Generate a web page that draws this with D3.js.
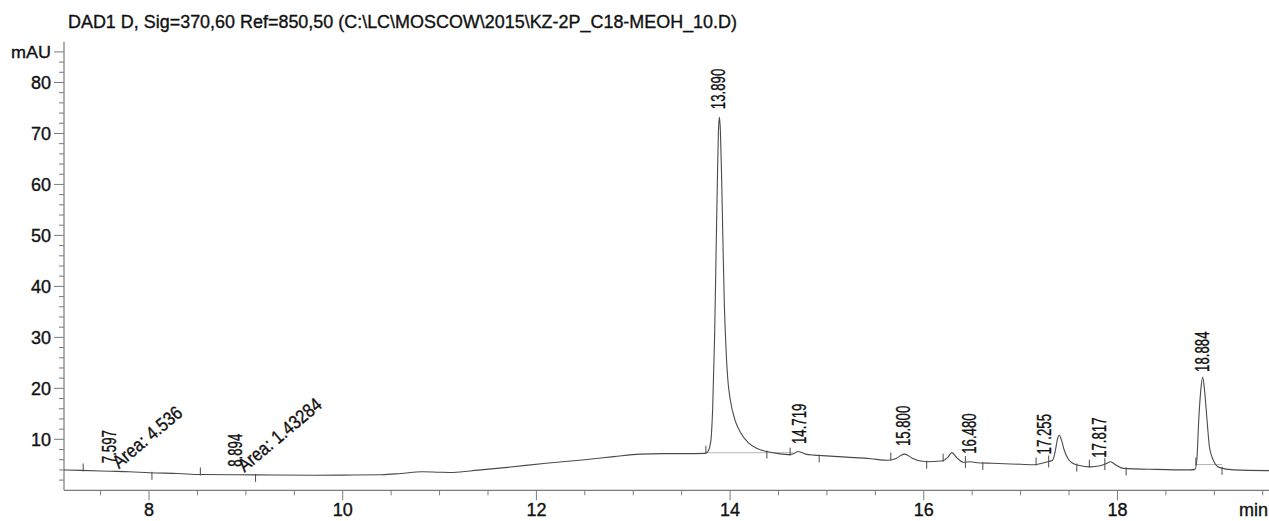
<!DOCTYPE html>
<html>
<head>
<meta charset="utf-8">
<script src="https://cdn.jsdelivr.net/npm/d3@7"></script>
<style>
  html, body { margin: 0; padding: 0; background: #fff; }
  svg { display: block; font-family: "Liberation Sans", Arial, sans-serif; }
  text { fill: #111; stroke: #111; stroke-width: 0.35px; }
</style>
</head>
<body>
<svg id="chart" width="1269" height="521"></svg>
<script>
// ---- data ----
const titleText = "DAD1 D, Sig=370,60 Ref=850,50 (C:\\LC\\MOSCOW\\2015\\KZ-2P_C18-MEOH_10.D)";
const yUnit = "mAU";
const xUnit = "min";

const xMajorTicks = [8, 10, 12, 14, 16, 18];
const yMajorTicks = [10, 20, 30, 40, 50, 60, 70, 80];

const signalTime = [
  7.122, 7.3, 7.6, 7.8, 8.0, 8.3, 8.53, 8.9, 9.3, 9.7, 10.1, 10.4, 10.6, 10.82, 11.0, 11.14,
  11.4, 11.7, 12.1, 12.5, 12.8, 13.07, 13.3, 13.5, 13.74,
  13.77, 13.8, 13.82, 13.84, 13.855, 13.87, 13.88, 13.89, 13.90, 13.912, 13.925, 13.94, 13.96,
  13.98, 14.0, 14.05, 14.1, 14.19, 14.28, 14.38, 14.5, 14.62, 14.66, 14.70, 14.74, 14.78,
  14.87, 14.95, 15.2, 15.45, 15.63, 15.72, 15.76, 15.80, 15.84, 15.88, 16.02, 16.2, 16.25,
  16.29, 16.34, 16.41, 16.48, 16.55, 16.71, 17.0, 17.14, 17.22, 17.28, 17.33, 17.36, 17.38,
  17.40, 17.42, 17.45, 17.49, 17.53, 17.6, 17.72, 17.82, 17.88, 17.93, 17.98, 18.06, 18.4,
  18.75, 18.80, 18.82, 18.84, 18.86, 18.88, 18.90, 18.925, 18.95, 18.99, 19.05, 19.2, 19.565
];
const signalValue = [
  4.0, 3.9, 3.75, 3.65, 3.45, 3.3, 3.1, 3.05, 3.0, 2.95, 3.0, 3.05, 3.3, 3.65, 3.55, 3.5,
  3.95, 4.5, 5.3, 6.0, 6.6, 7.1, 7.2, 7.2, 7.25,
  7.6, 9.5, 16, 30, 46, 62, 70.5, 73.2, 70.5, 62, 50, 37, 27,
  21, 18, 13.8, 11.6, 9.3, 8.2, 7.6, 7.2, 7.0, 7.2, 7.6, 7.4, 7.1,
  6.9, 6.8, 6.5, 6.2, 5.9, 6.3, 6.8, 7.1, 6.8, 6.3, 5.6, 5.8, 6.5,
  7.4, 6.4, 5.5, 5.6, 5.4, 5.3, 5.1, 5.0, 5.3, 5.6, 5.9, 7.9, 10.0,
  10.8, 10.0, 7.9, 6.2, 5.4, 4.9, 4.6, 4.8, 5.2, 5.6, 5.0, 4.3, 4.1,
  4.0, 4.1, 6.0, 14.0, 19.5, 22.2, 19.5, 13.8, 8.5, 5.9, 4.5, 4.0, 3.85
];

const peakRT = [7.597, 8.894, 13.890, 14.719, 15.800, 16.480, 17.255, 17.817, 18.884];
const peakText = ["7.597", "8.894", "13.890", "14.719", "15.800", "16.480", "17.255", "17.817", "18.884"];

const areaRT = [7.597, 8.894];
const areaText = ["Area: 4.536", "Area: 1.43284"];

// integration event markers: start (up), end (down), split (both)
const markStart = [7.32, 8.53, 13.75, 14.62, 15.66, 16.2, 17.16, 17.71, 18.81];
const markEnd = [8.03, 9.1, 14.38, 14.92, 16.03, 16.61, 17.58, 18.09, 19.08];
const markSplit = [16.43, 17.29, 17.87];

// drawn integration baselines [start, end]
const baseStart = [13.75, 18.81];
const baseEnd = [14.65, 19.08];

// ---- layout ----
const svg = d3.select("#chart");
const mLeft = 64, mRight = 1269, mTop = 41.7, mBottom = 490.3;
const x = d3.scaleLinear().domain([7.122, 19.565]).range([mLeft, mRight]);
const y = d3.scaleLinear().domain([0, 88]).range([mBottom, mTop]);

const axisColor = "#7a7a7a";
const lineColor = "#4a4a4a";

const interp = t => {
  const i = d3.bisectLeft(signalTime, t);
  if (i <= 0) return signalValue[0];
  if (i >= signalTime.length) return signalValue[signalValue.length - 1];
  const t0 = signalTime[i - 1], t1 = signalTime[i];
  return signalValue[i - 1] + (signalValue[i] - signalValue[i - 1]) * (t - t0) / (t1 - t0);
};

// title
svg.append("text")
  .attr("x", 68).attr("y", 28)
  .attr("font-size", 18)
  .attr("textLength", 669).attr("lengthAdjust", "spacingAndGlyphs")
  .text(titleText);

// y axis
const yAxisG = svg.append("g").attr("transform", `translate(${mLeft},0)`);
yAxisG.append("line").attr("x1", 0).attr("x2", 0).attr("y1", mTop).attr("y2", mBottom)
  .attr("stroke", axisColor).attr("stroke-width", 1.2);
const yMinor = d3.range(2, 87, 2).filter(v => v % 10 !== 0 && v !== 86);
yAxisG.selectAll(".ymin").data(yMinor).enter().append("line")
  .attr("x1", -5).attr("x2", 0).attr("y1", d => y(d)).attr("y2", d => y(d))
  .attr("stroke", axisColor);
yAxisG.selectAll(".ymaj").data(yMajorTicks.concat([86])).enter().append("line")
  .attr("x1", -10).attr("x2", 0).attr("y1", d => y(d)).attr("y2", d => y(d))
  .attr("stroke", axisColor);
yAxisG.selectAll(".ylab").data(yMajorTicks).enter().append("text")
  .attr("x", -13).attr("y", d => y(d)).attr("dy", "0.36em")
  .attr("text-anchor", "end").attr("font-size", 18)
  .text(d => d);
yAxisG.append("text").attr("x", -13).attr("y", y(86)).attr("dy", "0.36em")
  .attr("text-anchor", "end").attr("font-size", 17)
  .attr("textLength", 40).attr("lengthAdjust", "spacingAndGlyphs")
  .text(yUnit);

// x axis
const xAxisG = svg.append("g").attr("transform", `translate(0,${mBottom})`);
xAxisG.append("line").attr("x1", mLeft).attr("x2", mRight).attr("y1", 0).attr("y2", 0)
  .attr("stroke", axisColor).attr("stroke-width", 1.2);
const xMinor = d3.range(7.5, 19.6, 0.5).filter(v => !xMajorTicks.includes(v));
xAxisG.selectAll(".xmin").data(xMinor).enter().append("line")
  .attr("x1", d => x(d)).attr("x2", d => x(d)).attr("y1", 0).attr("y2", 5)
  .attr("stroke", axisColor);
xAxisG.selectAll(".xmaj").data(xMajorTicks).enter().append("line")
  .attr("x1", d => x(d)).attr("x2", d => x(d)).attr("y1", 0).attr("y2", 10)
  .attr("stroke", axisColor);
xAxisG.selectAll(".xlab").data(xMajorTicks).enter().append("text")
  .attr("x", d => x(d)).attr("y", 19).attr("dy", "0.36em")
  .attr("text-anchor", "middle").attr("font-size", 18)
  .text(d => d);
xAxisG.append("text").attr("x", 1239).attr("y", 19).attr("dy", "0.36em")
  .attr("font-size", 18).text(xUnit);

// integration baselines
svg.selectAll(".base").data(baseStart).enter().append("line")
  .attr("x1", d => x(d)).attr("x2", (d, i) => x(baseEnd[i]))
  .attr("y1", d => y(interp(d))).attr("y2", (d, i) => y(interp(d)))
  .attr("stroke", "#b5b5b5").attr("stroke-width", 1);

// signal
const pts = signalTime.map((t, i) => [t, signalValue[i]]);
svg.append("path").datum(pts)
  .attr("fill", "none").attr("stroke", lineColor).attr("stroke-width", 1.1)
  .attr("d", d3.line().x(d => x(d[0])).y(d => y(d[1])).curve(d3.curveMonotoneX));

// event markers
svg.selectAll(".ms").data(markStart).enter().append("line")
  .attr("x1", d => x(d)).attr("x2", d => x(d))
  .attr("y1", d => y(interp(d)) + 1).attr("y2", d => y(interp(d)) - 7)
  .attr("stroke", lineColor);
svg.selectAll(".me").data(markEnd).enter().append("line")
  .attr("x1", d => x(d)).attr("x2", d => x(d))
  .attr("y1", d => y(interp(d)) - 1).attr("y2", d => y(interp(d)) + 7)
  .attr("stroke", lineColor);
svg.selectAll(".mx").data(markSplit).enter().append("line")
  .attr("x1", d => x(d)).attr("x2", d => x(d))
  .attr("y1", d => y(interp(d)) - 6).attr("y2", d => y(interp(d)) + 6)
  .attr("stroke", lineColor);

// peak labels
svg.selectAll(".pl").data(peakRT).enter().append("text")
  .attr("transform", d => `translate(${x(d) + 6},${y(interp(d)) - 8}) rotate(-90)`)
  .attr("font-size", 20)
  .text((d, i) => peakText[i])
  .each(function () {
    const L = this.getComputedTextLength();
    d3.select(this).attr("textLength", L * 0.66).attr("lengthAdjust", "spacingAndGlyphs");
  });

// area labels
svg.selectAll(".al").data(areaRT).enter().append("text")
  .attr("transform", d => `translate(${x(d) + 9},${y(interp(d)) - 2}) rotate(-40)`)
  .attr("font-size", 19)
  .text((d, i) => areaText[i])
  .each(function () {
    const L = this.getComputedTextLength();
    d3.select(this).attr("textLength", L * 0.86).attr("lengthAdjust", "spacingAndGlyphs");
  });
</script>
</body>
</html>
